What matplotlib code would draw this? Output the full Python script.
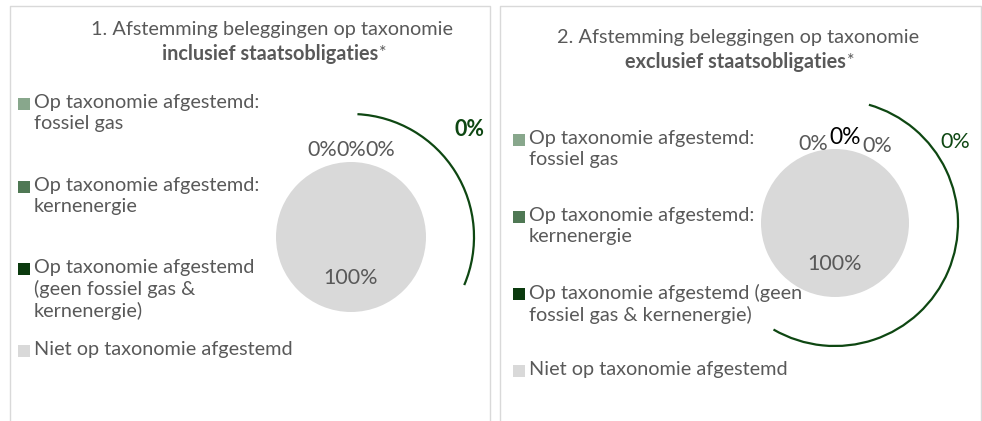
import matplotlib
matplotlib.use("Agg")
import matplotlib.pyplot as plt
from matplotlib.patches import Arc

plt.rcParams['font.family'] = ['Lato', 'DejaVu Sans']

# ---- data ----
categories = [
    "Op taxonomie afgestemd:\nfossiel gas",
    "Op taxonomie afgestemd:\nkernenergie",
    "Op taxonomie afgestemd\n(geen fossiel gas &\nkernenergie)",
    "Niet op taxonomie afgestemd",
]
categories_2 = [
    "Op taxonomie afgestemd:\nfossiel gas",
    "Op taxonomie afgestemd:\nkernenergie",
    "Op taxonomie afgestemd (geen\nfossiel gas & kernenergie)",
    "Niet op taxonomie afgestemd",
]
values_incl = [0, 0, 0, 100]
values_excl = [0, 0, 0, 100]
aligned_incl = 0
aligned_excl = 0
title_1_line1 = "1. Afstemming beleggingen op taxonomie"
title_1_bold = "inclusief staatsobligaties"
title_2_line1 = "2. Afstemming beleggingen op taxonomie"
title_2_bold = "exclusief staatsobligaties"

colors = ["#88a78c", "#4f7854", "#0b3a0e", "#d9d9d9"]
arc_color = "#0e4712"
text_color = "#595959"

W, H = 982, 421
fig = plt.figure(figsize=(W / 100, H / 100), dpi=100)
ax = fig.add_axes([0, 0, 1, 1])


def Y(y):
    return H - y


FS = 14.3
LFS = 15.5

# panel borders
for x0, x1 in [(10, 490), (500, 981)]:
    ax.plot([x0, x0, x1, x1], [Y(430), Y(6), Y(6), Y(430)], color="#d9d9d9", lw=1.0)


def panel(values, cats, aligned, cx, cy, r, arc_th, aligned_pos, aligned_bold,
          zero_pos, zero_styles, title1, title_bold, t1xy, t2x, t2y,
          leg_x, leg_ys, sq_x):
    wedges, texts, autotexts = ax.pie(
        values, colors=colors, startangle=90, counterclock=False,
        center=(cx, Y(cy)), radius=r, autopct=lambda p: f"{p:.0f}%",
        pctdistance=0.55, textprops=dict(fontsize=LFS, color=text_color),
        wedgeprops=dict(linewidth=0))
    for i, t in enumerate(autotexts[:3]):
        t.set_position((zero_pos[i][0], Y(zero_pos[i][1])))
        t.set_text(f"{values[i]:.0f}%")
        t.set_color(zero_styles[i][0])
        t.set_fontsize(zero_styles[i][1])
        t.set_ha("center")
        t.set_va("center")
    # outer arc for aligned share
    ax.add_patch(Arc((cx, Y(cy)), 2 * 123, 2 * 123, theta1=arc_th[0], theta2=arc_th[1],
                     color=arc_color, lw=1.6))
    ax.text(aligned_pos[0], Y(aligned_pos[1]), f"{aligned:.0f}%", color=arc_color,
            fontsize=LFS, fontweight="bold" if aligned_bold else "normal",
            ha="center", va="center")
    # titles
    ax.text(t1xy[0], Y(t1xy[1]), title1, ha="center", va="center", fontsize=FS,
            color=text_color)
    ax.text(t2x, Y(t2y), title_bold, ha="right", va="center", fontsize=FS,
            color=text_color, fontweight="bold")
    ax.text(t2x + 0.5, Y(t2y - 1), "*", ha="left", va="center", fontsize=FS * 0.9,
            color=text_color)
    # legend
    for i, lab in enumerate(cats):
        ax.scatter([sq_x], [Y(leg_ys[i])], marker="s", s=68, color=colors[i],
                   linewidths=0)
        ax.text(leg_x, Y(leg_ys[i] - 10), lab, ha="left", va="top", fontsize=FS,
                color=text_color, linespacing=1.27)


panel(values_incl, categories, aligned_incl, 351, 237, 75, (-23, 87), (470, 130), True,
      [(322, 150), (351, 150), (380, 150)],
      [(text_color, LFS), (text_color, LFS), (text_color, LFS)],
      title_1_line1, title_1_bold, (272, 29), 378, 54,
      34, [104, 187, 269, 351], 24)

panel(values_excl, categories_2, aligned_excl, 835, 223, 74, (-120, 74), (955, 142), False,
      [(813, 144), (845, 137), (877, 146)],
      [(text_color, LFS), ("#000000", LFS + 1), (text_color, LFS)],
      title_2_line1, title_2_bold, (738, 37), 846, 62,
      529, [140, 217, 294, 371], 519)

ax.set_xlim(0, W)
ax.set_ylim(0, H)
ax.set_aspect("auto")
ax.axis("off")
fig.savefig("out.png", dpi=100)
